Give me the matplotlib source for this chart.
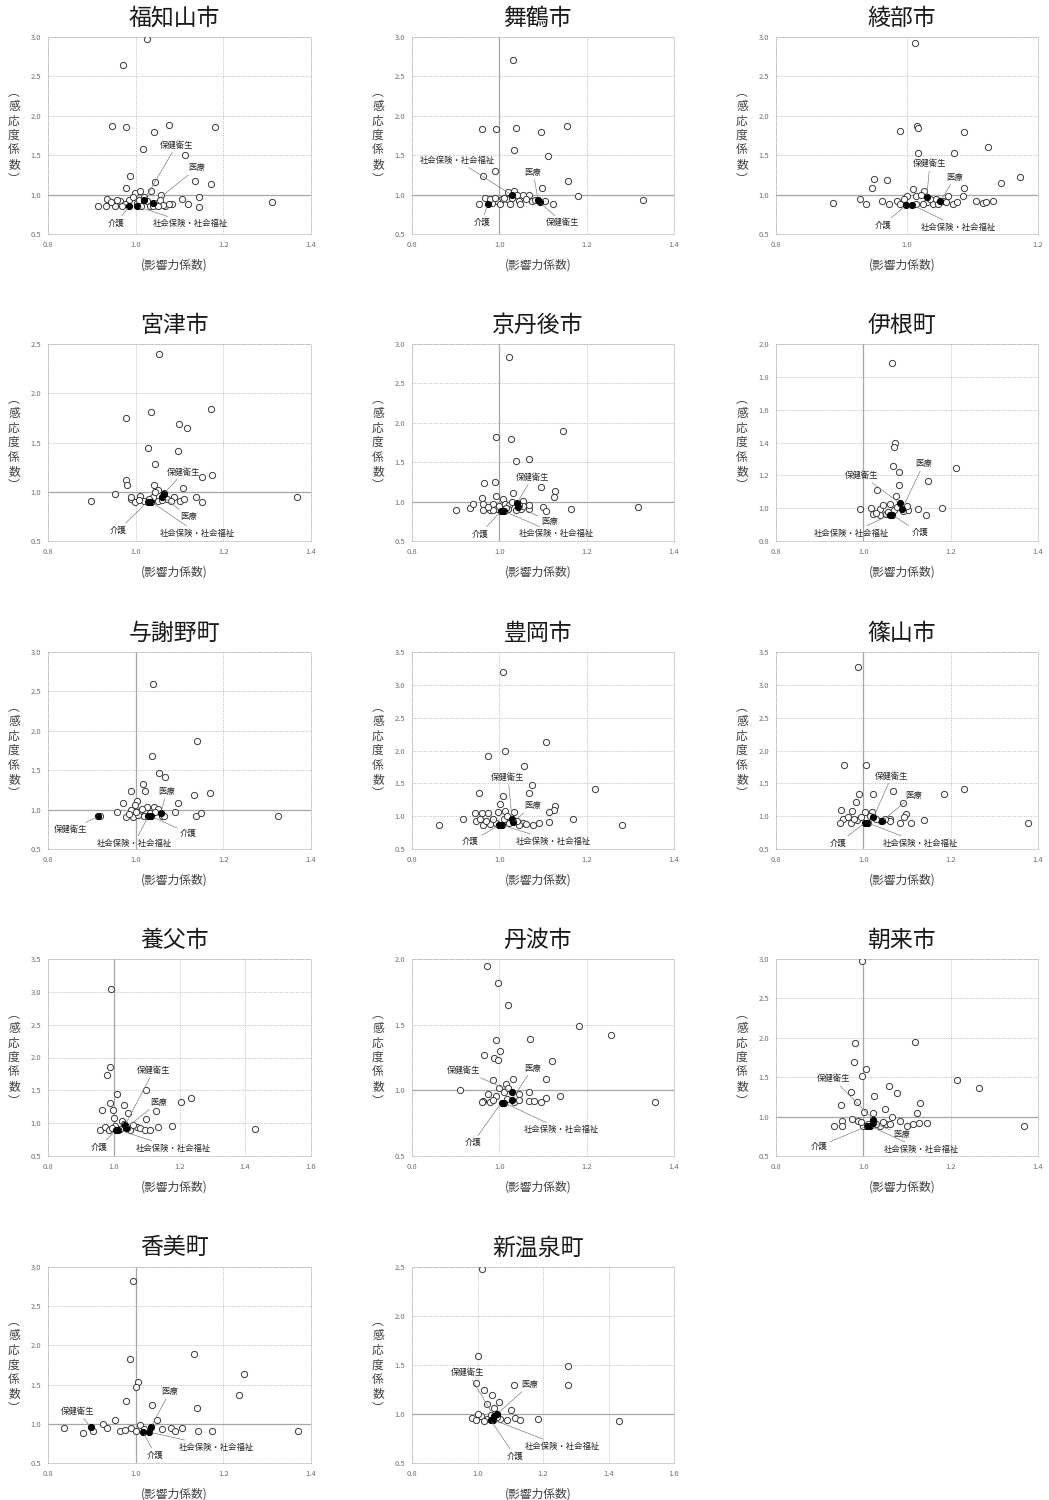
import matplotlib
matplotlib.use('Agg')
import matplotlib.pyplot as plt
import numpy as np

plt.rcParams['font.family'] = ['Noto Sans CJK JP', 'DejaVu Sans']

SECTORS = ['保健衛生', '医療', '介護', '社会保険・社会福祉']
X_LABEL = '(影響力係数)'
Y_LABEL = '︵\n感\n応\n度\n係\n数\n︶'

# ---------------- data (影響力係数, 感応度係数) ----------------
fk_pts = [(1.025,2.98),(0.972,2.65),(0.946,1.875),(0.978,1.86),(1.077,1.88),(1.180,1.86),(1.041,1.79),(1.017,1.58),(1.113,1.50),(0.987,1.24),(1.045,1.16),(1.135,1.17),(1.173,1.13),(0.979,1.09),(0.998,1.02),(1.011,1.05),(1.035,1.05),(1.058,1.00),(1.105,0.95),(1.144,0.97),(1.119,0.885),(1.144,0.84),(1.082,0.885),(1.311,0.90),(0.914,0.85),(0.935,0.94),(0.952,0.85),(0.964,0.915),(0.985,0.935),(0.994,0.97),(1.002,0.89),(1.013,0.85),(1.025,0.915),(1.033,0.85),(1.048,0.89),(1.055,0.935),(1.067,0.85),(0.932,0.85),(0.944,0.90),(0.975,0.88),(1.008,0.93),(1.040,0.86),(1.062,0.87),(0.958,0.93),(1.020,0.97),(1.050,0.86),(0.968,0.85),(1.075,0.88)]
fk_hl = [(1.020,0.935),(1.040,0.89),(0.985,0.85),(1.003,0.85)]

mz_pts = [(1.031,2.71),(0.961,1.83),(0.992,1.83),(1.039,1.84),(1.095,1.79),(1.154,1.87),(1.033,1.56),(1.111,1.49),(0.963,1.23),(0.990,1.30),(1.158,1.17),(1.098,1.09),(1.180,0.98),(1.330,0.93),(1.122,0.885),(1.105,0.915),(1.074,0.915),(1.067,1.0),(1.054,1.0),(1.044,0.92),(1.034,1.04),(1.019,1.03),(1.017,0.94),(1.006,0.94),(0.995,0.915),(0.983,0.89),(0.968,0.955),(0.953,0.885),(1.002,0.885),(1.025,0.885),(1.048,0.885),(1.010,0.96),(0.978,0.94),(1.028,0.96),(1.060,0.95),(1.040,0.99),(0.990,0.96),(1.082,0.93)]
mz_hl = [(1.092,0.905),(1.089,0.935),(0.973,0.885),(1.030,0.99)]

ay_pts = [(1.012,2.92),(1.016,1.875),(1.017,1.84),(0.989,1.81),(1.087,1.80),(1.124,1.60),(1.017,1.53),(1.071,1.53),(0.950,1.20),(0.970,1.19),(1.144,1.15),(1.173,1.22),(0.947,1.08),(1.087,1.08),(1.009,1.075),(1.026,1.05),(0.929,0.95),(0.938,0.88),(0.887,0.89),(0.962,0.92),(0.973,0.88),(0.984,0.92),(1.000,0.98),(1.014,0.98),(1.030,0.905),(1.040,0.885),(1.055,0.915),(1.063,0.985),(1.070,0.885),(1.086,0.98),(1.106,0.915),(1.116,0.89),(1.131,0.915),(0.990,0.88),(1.014,0.88),(1.035,0.94),(1.045,0.94),(1.022,1.0),(0.995,0.95),(1.060,0.90),(1.076,0.91),(1.120,0.91),(1.048,0.88),(1.025,0.88)]
ay_hl = [(1.030,0.965),(1.051,0.915),(0.999,0.87),(1.008,0.87)]

mzu_pts = [(1.053,2.40),(1.173,1.84),(1.036,1.81),(0.979,1.75),(1.099,1.69),(1.118,1.65),(1.028,1.44),(1.096,1.41),(1.043,1.28),(1.175,1.17),(1.152,1.15),(0.977,1.12),(0.980,1.07),(1.042,1.07),(1.108,1.04),(0.953,0.98),(0.899,0.905),(1.369,0.95),(1.137,0.945),(1.152,0.90),(1.100,0.905),(1.087,0.95),(1.052,1.02),(1.064,0.99),(1.010,0.955),(0.989,0.93),(0.999,0.90),(1.018,0.905),(1.052,0.905),(1.071,0.93),(1.040,0.95),(1.030,0.93),(1.008,0.92),(1.080,0.905),(1.110,0.93),(1.045,1.0),(1.060,0.92),(0.990,0.95)]
mzu_hl = [(1.064,0.98),(1.061,0.95),(1.028,0.90),(1.035,0.90)]

kt_pts = [(1.022,2.84),(1.146,1.90),(0.993,1.82),(1.027,1.80),(1.069,1.54),(1.039,1.51),(0.965,1.23),(0.989,1.25),(1.096,1.18),(1.128,1.14),(1.125,1.06),(1.032,1.11),(0.993,1.07),(0.961,1.05),(0.900,0.89),(0.933,0.92),(0.939,0.97),(1.317,0.93),(1.165,0.91),(1.100,0.93),(1.106,0.885),(1.069,0.90),(1.069,0.955),(1.054,1.005),(1.008,1.03),(1.012,0.975),(0.985,0.965),(0.962,0.965),(0.962,0.89),(0.978,0.89),(0.993,0.91),(1.023,0.955),(1.039,0.89),(1.050,0.90),(1.020,0.90),(1.000,0.94),(1.030,1.0),(0.985,0.89),(1.015,0.92),(1.055,0.95),(0.975,0.93),(1.045,0.96)]
kt_hl = [(1.040,0.98),(1.043,0.935),(1.004,0.88),(1.010,0.88)]

ine_pts = [(1.066,1.884),(1.073,1.40),(1.071,1.37),(1.067,1.256),(1.082,1.22),(1.212,1.245),(1.149,1.168),(1.082,1.144),(1.032,1.113),(1.074,1.077),(0.993,0.997),(1.017,1.0),(1.038,0.993),(1.046,1.018),(1.061,1.026),(1.023,0.963),(1.038,0.959),(1.126,0.997),(1.143,0.957),(1.180,1.001),(1.103,0.989),(1.091,0.985),(1.099,1.014),(1.052,0.965),(1.030,0.97),(1.070,0.99),(1.078,1.01),(1.056,0.975)]
ine_hl = [(1.084,1.03),(1.089,0.995),(1.066,0.959),(1.060,0.959)]

ys_pts = [(1.039,2.59),(1.140,1.87),(1.038,1.68),(1.054,1.46),(1.067,1.42),(1.016,1.32),(1.022,1.24),(0.990,1.23),(1.170,1.21),(1.134,1.18),(1.097,1.09),(0.970,1.08),(1.003,1.11),(0.958,0.97),(0.978,0.91),(0.999,1.06),(0.990,1.0),(1.026,1.03),(1.041,1.03),(1.050,1.01),(1.010,0.98),(1.089,0.965),(1.138,0.915),(1.149,0.955),(1.324,0.92),(1.060,0.915),(0.995,0.91),(1.005,0.93),(1.020,0.915),(1.032,0.96),(1.045,0.965),(1.015,1.01),(0.985,0.95),(1.065,0.92),(0.918,0.915),(1.000,0.97)]
ys_hl = [(0.915,0.915),(1.057,0.955),(1.036,0.915),(1.029,0.915)]

to_pts = [(1.008,3.20),(1.107,2.13),(1.013,2.00),(0.973,1.91),(1.056,1.76),(1.074,1.47),(1.219,1.42),(1.067,1.35),(0.954,1.35),(1.008,1.31),(1.002,1.19),(1.128,1.16),(1.126,1.09),(1.114,1.06),(0.997,1.06),(1.014,1.08),(1.034,1.06),(0.944,1.05),(0.961,1.05),(0.974,1.05),(0.917,0.95),(0.862,0.86),(1.168,0.95),(1.282,0.87),(1.113,0.91),(1.091,0.90),(1.076,0.87),(1.055,0.90),(0.946,0.93),(0.963,0.87),(0.978,0.88),(0.993,0.90),(1.023,0.90),(1.046,0.86),(0.985,0.95),(1.010,0.95),(1.040,0.93),(0.970,0.92),(1.018,1.0),(0.955,0.96),(1.060,0.88),(1.000,0.87)]
to_hl = [(1.029,0.96),(1.031,0.91),(1.000,0.865),(1.005,0.865)]

ss_pts = [(0.988,3.27),(0.956,1.78),(1.006,1.78),(1.231,1.42),(1.068,1.39),(1.185,1.33),(1.022,1.33),(0.990,1.34),(0.984,1.21),(1.090,1.20),(0.949,1.09),(0.973,1.08),(1.020,1.07),(1.004,1.06),(1.098,1.03),(1.093,0.99),(1.061,0.96),(1.138,0.94),(1.109,0.90),(1.084,0.90),(1.377,0.90),(1.061,0.92),(0.954,0.96),(0.946,0.90),(0.965,0.99),(0.972,0.90),(0.985,0.94),(1.010,0.90),(1.040,0.93),(1.050,0.96),(0.995,0.98),(1.030,0.95),(0.978,0.96),(1.015,1.0)]
ss_hl = [(1.023,0.98),(1.042,0.92),(1.004,0.90),(1.009,0.90)]

yb_pts = [(0.991,3.05),(0.989,1.86),(0.980,1.73),(1.011,1.45),(1.098,1.50),(1.236,1.38),(1.206,1.32),(0.989,1.31),(1.032,1.27),(0.963,1.20),(0.999,1.20),(1.129,1.19),(1.042,1.15),(1.001,1.08),(1.097,1.07),(1.026,1.04),(1.176,0.955),(1.134,0.935),(1.429,0.91),(0.958,0.90),(0.973,0.935),(0.985,0.90),(1.005,0.95),(1.020,0.91),(1.050,0.90),(1.070,0.94),(1.080,0.92),(1.095,0.90),(1.110,0.90),(1.060,0.97),(0.995,0.93),(1.040,0.93),(1.030,0.98)]
yb_hl = [(1.034,0.966),(1.037,0.925),(1.007,0.90),(1.014,0.90)]

tb_pts = [(0.972,1.947),(0.998,1.82),(1.019,1.65),(1.183,1.49),(1.255,1.42),(1.070,1.39),(0.992,1.38),(1.001,1.30),(0.964,1.27),(0.987,1.25),(0.997,1.23),(1.121,1.22),(1.106,1.09),(1.031,1.09),(0.985,1.08),(1.016,1.05),(0.909,1.0),(1.356,0.91),(1.140,0.955),(1.108,0.94),(1.096,0.91),(1.069,0.99),(1.069,0.92),(1.046,0.975),(0.974,0.975),(0.962,0.92),(0.978,0.91),(0.993,0.96),(1.010,0.985),(1.018,0.935),(1.033,0.91),(1.046,0.925),(0.960,0.91),(0.985,0.93),(1.000,1.02),(1.080,0.92),(1.020,1.02)]
tb_hl = [(1.029,0.99),(1.029,0.93),(1.005,0.907),(1.010,0.907)]

ak_pts = [(0.998,2.98),(1.119,1.95),(0.981,1.93),(0.978,1.69),(1.006,1.60),(0.998,1.52),(1.215,1.47),(1.264,1.36),(1.059,1.39),(1.076,1.30),(0.972,1.31),(1.025,1.26),(0.986,1.18),(1.129,1.17),(0.948,1.15),(1.050,1.10),(1.002,1.06),(1.124,1.04),(1.367,0.88),(1.023,1.04),(0.975,0.97),(0.987,0.95),(1.065,0.99),(1.085,0.95),(1.128,0.92),(1.145,0.92),(1.113,0.90),(1.099,0.88),(1.053,0.90),(1.038,0.88),(0.950,0.94),(0.952,0.88),(0.933,0.875),(1.000,0.88),(1.010,0.91),(0.995,0.93),(1.060,0.91),(1.045,0.93),(1.030,0.90)]
ak_hl = [(1.023,0.96),(1.023,0.92),(1.009,0.88),(1.015,0.88)]

km_pts = [(0.995,2.82),(0.988,1.83),(1.133,1.89),(1.006,1.53),(1.001,1.47),(1.248,1.64),(1.235,1.37),(0.979,1.29),(1.038,1.24),(1.140,1.20),(0.952,1.05),(0.925,1.00),(1.049,1.05),(1.370,0.91),(1.174,0.91),(1.142,0.91),(1.105,0.95),(0.902,0.91),(0.934,0.95),(0.836,0.95),(0.879,0.88),(0.965,0.91),(0.990,0.95),(1.010,0.99),(1.060,0.93),(1.080,0.95),(0.975,0.92),(1.020,0.93),(1.000,0.91),(1.090,0.91)]
km_hl = [(0.897,0.96),(1.035,0.96),(1.017,0.895),(1.031,0.895)]

sn_pts = [(1.014,2.48),(1.002,1.59),(1.276,1.49),(1.276,1.30),(0.995,1.32),(1.111,1.30),(1.020,1.25),(1.044,1.19),(1.066,1.12),(1.030,1.10),(1.050,1.06),(1.102,1.04),(1.185,0.95),(1.432,0.93),(0.983,0.96),(0.995,0.94),(1.010,0.98),(1.030,0.95),(1.070,0.95),(1.115,0.96),(1.130,0.94),(1.000,1.0),(1.040,0.99),(1.060,0.97),(1.090,0.94),(1.020,0.93)]
sn_hl = [(1.050,0.98),(1.060,1.00),(1.040,0.94),(1.048,0.94)]

# ---------------- layout ----------------
W, H = 1049, 1500
fig = plt.figure(figsize=(W / 100, H / 100), dpi=100)
fig.patch.set_facecolor('white')

COLS = [(48, 311), (412, 674), (776, 1038)]
ROWS = [(37, 234), (344, 541), (652, 849), (959, 1156), (1267, 1463)]

# panel: (row, col, title, pts, hl, label text positions, xlim, ylim, ystep, hline, vline)
PANELS = [
    (0, 0, '福知山市', fk_pts, fk_hl, [(1.093,1.625),(1.14,1.34),(0.956,0.64),(1.124,0.63)], (0.8,1.4), (0.5,3.0), 0.5, True, False),
    (0, 1, '舞鶴市', mz_pts, mz_hl, [(1.146,0.64),(1.077,1.28),(0.961,0.65),(0.904,1.435)], (0.8,1.4), (0.5,3.0), 0.5, True, True),
    (0, 2, '綾部市', ay_pts, ay_hl, [(1.035,1.39),(1.073,1.22),(0.963,0.61),(1.078,0.585)], (0.8,1.2), (0.5,3.0), 0.5, True, False),
    (1, 0, '宮津市', mzu_pts, mzu_hl, [(1.110,1.20),(1.121,0.75),(0.960,0.61),(1.140,0.58)], (0.8,1.4), (0.5,2.5), 0.5, True, False),
    (1, 1, '京丹後市', kt_pts, kt_hl, [(1.076,1.31),(1.114,0.75),(0.956,0.59),(1.131,0.59)], (0.8,1.4), (0.5,3.0), 0.5, True, True),
    (1, 2, '伊根町', ine_pts, ine_hl, [(0.997,1.199),(1.138,1.27),(1.129,0.85),(0.973,0.847)], (0.8,1.4), (0.8,2.0), 0.2, False, True),
    (2, 0, '与謝野町', ys_pts, ys_hl, [(0.852,0.745),(1.071,1.23),(1.120,0.70),(0.997,0.576)], (0.8,1.4), (0.5,3.0), 0.5, True, True),
    (2, 1, '豊岡市', to_pts, to_hl, [(1.020,1.59),(1.076,1.16),(0.934,0.61),(1.125,0.62)], (0.8,1.4), (0.5,3.5), 0.5, False, False),
    (2, 2, '篠山市', ss_pts, ss_hl, [(1.065,1.61),(1.114,1.32),(0.943,0.59),(1.13,0.59)], (0.8,1.4), (0.5,3.5), 0.5, False, True),
    (3, 0, '養父市', yb_pts, yb_hl, [(1.121,1.80),(1.136,1.32),(0.956,0.63),(1.182,0.62)], (0.8,1.6), (0.5,3.5), 0.5, False, True),
    (3, 1, '丹波市', tb_pts, tb_hl, [(0.919,1.15),(1.076,1.17),(0.939,0.60),(1.142,0.70)], (0.8,1.4), (0.5,2.0), 0.5, True, False),
    (3, 2, '朝来市', ak_pts, ak_hl, [(0.931,1.48),(1.087,0.77),(0.898,0.62),(1.132,0.585)], (0.8,1.4), (0.5,3.0), 0.5, True, True),
    (4, 0, '香美町', km_pts, km_hl, [(0.868,1.16),(1.078,1.41),(1.045,0.60),(1.185,0.70)], (0.8,1.4), (0.5,3.0), 0.5, True, True),
    (4, 1, '新温泉町', sn_pts, sn_hl, [(0.971,1.42),(1.160,1.30),(1.114,0.57),(1.258,0.67)], (0.8,1.6), (0.5,2.5), 0.5, True, False),
]

GRID_C = '#b8b8b8'
AXIS_C = '#a6a6a6'
TICK_C = '#6f6f6f'
DOTS = (0, (1.5, 1.5))

for (row, col, title, pts, hl, tpos, xlim, ylim, ystep, hline, vline) in PANELS:
    l, r = COLS[col]
    t, b = ROWS[row]
    hpx = b - t
    ax = fig.add_axes([l / W, 1 - b / H, (r - l) / W, hpx / H])
    ax.set_xlim(*xlim)
    ax.set_ylim(*ylim)
    xt = np.arange(xlim[0], xlim[1] + 1e-9, 0.2)
    yt = np.arange(ylim[0], ylim[1] + 1e-9, ystep)
    ax.set_xticks(xt)
    ax.set_yticks(yt)
    ax.set_xticklabels([f'{v:.1f}' for v in xt])
    ax.set_yticklabels([f'{v:.1f}' for v in yt])
    ax.tick_params(length=0, labelsize=5.5, labelcolor=TICK_C, pad=5)
    ax.grid(True, linestyle=DOTS, color=GRID_C, linewidth=0.55)
    ax.set_axisbelow(True)
    for sp in ax.spines.values():
        sp.set_linestyle(DOTS)
        sp.set_color(GRID_C)
        sp.set_linewidth(0.55)
    if hline:
        ax.axhline(1.0, color=AXIS_C, lw=0.9, zorder=1)
    if vline:
        ax.axvline(1.0, color=AXIS_C, lw=0.9, zorder=1)

    px, py = zip(*pts)
    ax.scatter(px, py, s=20, facecolor='white', edgecolor='#3a3a3a', linewidth=0.7, zorder=3)
    hx, hy = zip(*hl)
    ax.scatter(hx, hy, s=20, facecolor='black', edgecolor='black', linewidth=0.7, zorder=4)

    for name, (x0, y0), (tx, ty) in zip(SECTORS, hl, tpos):
        ax.annotate(name, xy=(x0, y0), xytext=(tx, ty), fontsize=6, color='#262626',
                    ha='center', va='center', zorder=5,
                    arrowprops=dict(arrowstyle='-', color='#808080', lw=0.5,
                                    shrinkA=0, shrinkB=2))

    ax.text(0.48, 1 + 19 / hpx, title, transform=ax.transAxes, ha='center',
            va='center', fontsize=16.5, color='#1a1a1a')
    ax.text(0.48, -31 / hpx, X_LABEL, transform=ax.transAxes, ha='center',
            va='center', fontsize=8.5, color='#404040')
    ax.text(-34 / (r - l), 0.5, Y_LABEL, transform=ax.transAxes, ha='center',
            va='center', fontsize=8.5, color='#404040', linespacing=1.15)

fig.savefig('out.png', dpi=100, facecolor='white')
